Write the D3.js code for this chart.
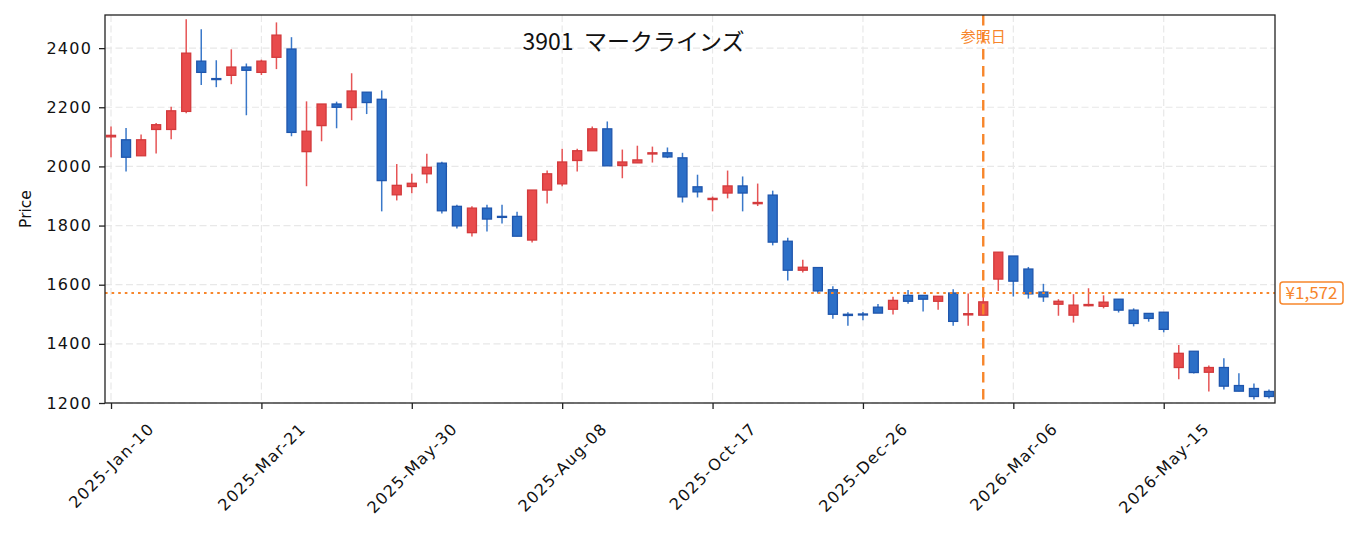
<!DOCTYPE html>
<html>
<head>
<meta charset="utf-8">
<script src="https://cdn.jsdelivr.net/npm/d3@7"></script>
<style>
  html, body { margin: 0; padding: 0; background: #fff; }
  svg { display: block; }
</style>
</head>
<body>
<svg id="chart" width="1355" height="533"></svg>
<script>
const title = "3901\u00a0\u00a0マークラインズ";
const yLabel = "Price";
const refLabel = "参照日";
const refDate = "2026-02-20";
const refPrice = 1572;
const refPriceLabel = "¥1,572";

const dates = [
  "2025-01-10","2025-01-17","2025-01-24","2025-01-31","2025-02-07","2025-02-14","2025-02-21","2025-02-28",
  "2025-03-07","2025-03-14","2025-03-21","2025-03-28","2025-04-04","2025-04-11","2025-04-18","2025-04-25",
  "2025-05-02","2025-05-09","2025-05-16","2025-05-23","2025-05-30","2025-06-06","2025-06-13","2025-06-20",
  "2025-06-27","2025-07-04","2025-07-11","2025-07-18","2025-07-25","2025-08-01","2025-08-08","2025-08-15",
  "2025-08-22","2025-08-29","2025-09-05","2025-09-12","2025-09-19","2025-09-26","2025-10-03","2025-10-10",
  "2025-10-17","2025-10-24","2025-10-31","2025-11-07","2025-11-14","2025-11-21","2025-11-28","2025-12-05",
  "2025-12-12","2025-12-19","2025-12-26","2026-01-02","2026-01-09","2026-01-16","2026-01-23","2026-01-30",
  "2026-02-06","2026-02-13","2026-02-20","2026-02-27","2026-03-06","2026-03-13","2026-03-20","2026-03-27",
  "2026-04-03","2026-04-10","2026-04-17","2026-04-24","2026-05-01","2026-05-08","2026-05-15","2026-05-22",
  "2026-05-29","2026-06-05","2026-06-12","2026-06-19","2026-06-26","2026-07-03"
];

const open = [
  2100,2090,2036,2125,2125,2186,2356,2297,2308,2336,2318,2369,2397,2050,2138,2211,
  2199,2251,2227,1904,1932,1975,2011,1865,1776,1859,1831,1831,1751,1920,1941,2020,
  2053,2127,2003,2012,2042,2046,2029,1931,1888,1910,1934,1874,1903,1747,1649,1658,
  1583,1500,1501,1524,1517,1564,1564,1544,1572,1498,1497,1619,1697,1653,1575,1534,
  1497,1529,1527,1551,1514,1503,1507,1320,1375,1304,1320,1259,1249,1239
];
const high = [
  2135,2130,2108,2147,2202,2498,2464,2359,2396,2348,2361,2487,2437,2220,2211,2219,
  2315,2251,2257,2008,1975,2043,2016,1870,1865,1870,1870,1847,1920,1986,2060,2060,
  2135,2152,2057,2070,2067,2064,2046,1972,1898,1986,1966,1942,1918,1759,1684,1658,
  1595,1507,1508,1535,1559,1582,1564,1561,1585,1570,1590,1710,1697,1660,1603,1551,
  1568,1588,1564,1551,1520,1503,1507,1396,1375,1327,1351,1301,1266,1246
];
const low = [
  2031,1983,2036,2044,2092,2180,2275,2268,2278,2173,2309,2329,2102,1933,2085,2129,
  2156,2177,1848,1885,1909,1943,1841,1790,1763,1780,1807,1764,1743,1875,1933,1983,
  2053,2002,1960,2012,2013,2028,1878,1895,1848,1892,1848,1866,1733,1614,1641,1570,
  1485,1461,1480,1504,1499,1536,1509,1515,1461,1461,1497,1579,1560,1553,1542,1495,
  1472,1527,1520,1506,1459,1475,1439,1280,1300,1239,1246,1240,1212,1215
];
const close = [
  2105,2031,2090,2141,2188,2383,2318,2294,2336,2325,2356,2444,2115,2119,2211,2200,
  2255,2216,1952,1936,1943,1997,1850,1799,1859,1822,1828,1764,1920,1975,2015,2053,
  2127,2002,2015,2022,2046,2032,1897,1914,1892,1934,1910,1878,1744,1649,1659,1579,
  1500,1496,1498,1504,1547,1544,1551,1561,1476,1502,1542,1710,1612,1569,1559,1544,
  1531,1533,1541,1514,1469,1486,1449,1368,1303,1320,1257,1240,1222,1222
];

const xTickDates = ["2025-01-10","2025-03-21","2025-05-30","2025-08-08","2025-10-17","2025-12-26","2026-03-06","2026-05-15"];
const yTicks = [1200,1400,1600,1800,2000,2200,2400];
const yDomain = [1200, 2512];

const parse = d3.utcParse("%Y-%m-%d");
const fmt = d3.utcFormat("%Y-%b-%d");
const WEEK = 7 * 864e5;
const data = dates.map((d, i) => ({ date: parse(d), o: open[i], h: high[i], l: low[i], c: close[i] }));

const L = 105, R = 1275, T = 15, B = 403;
const svg = d3.select("#chart");

const x = d3.scaleUtc()
  .domain([new Date(+data[0].date - 0.4 * WEEK), new Date(+data[data.length - 1].date + 0.4 * WEEK)])
  .range([L, R]);
const y = d3.scaleLinear().domain(yDomain).range([B, T]);

const orange = "#f7862b";
const upFill = "#e84b4c", upStroke = "#d33a3c", upWick = "#e65556";
const dnFill = "#2c6fc7", dnStroke = "#1f56ad", dnWick = "#3a78c9";
const tickFont = "DejaVu Sans";

// grid
const grid = svg.append("g");
grid.selectAll("line.gx").data(xTickDates.map(parse)).join("line")
  .attr("x1", d => x(d)).attr("x2", d => x(d)).attr("y1", T).attr("y2", B)
  .attr("stroke", "#e8e8e8").attr("stroke-width", 1.2).attr("stroke-dasharray", "7,3.5");
grid.selectAll("line.gy").data(yTicks).join("line")
  .attr("x1", L).attr("x2", R).attr("y1", d => y(d)).attr("y2", d => y(d))
  .attr("stroke", "#e8e8e8").attr("stroke-width", 1.2).attr("stroke-dasharray", "7,3.5");

// candles
const halfW = (x(new Date(+data[0].date + 0.3 * WEEK)) - x(data[0].date));
const cg = svg.append("g");
cg.selectAll("line.wick").data(data).join("line")
  .attr("x1", d => x(d.date)).attr("x2", d => x(d.date))
  .attr("y1", d => y(d.h)).attr("y2", d => y(d.l))
  .attr("stroke", d => d.c >= d.o ? upWick : dnWick).attr("stroke-width", 1.5);
cg.selectAll("rect.body").data(data).join("rect")
  .attr("x", d => x(d.date) - halfW).attr("width", halfW * 2)
  .attr("y", d => y(Math.max(d.o, d.c)))
  .attr("height", d => Math.max(1, Math.abs(y(d.o) - y(d.c))))
  .attr("fill", d => d.c >= d.o ? upFill : dnFill)
  .attr("stroke", d => d.c >= d.o ? upStroke : dnStroke)
  .attr("stroke-width", 1.3);

// reference lines
svg.append("line")
  .attr("x1", L).attr("x2", R).attr("y1", y(refPrice)).attr("y2", y(refPrice))
  .attr("stroke", orange).attr("stroke-width", 2).attr("stroke-dasharray", "2.6,4");
svg.append("line")
  .attr("x1", x(parse(refDate))).attr("x2", x(parse(refDate))).attr("y1", T).attr("y2", B)
  .attr("stroke", orange).attr("stroke-width", 2.4).attr("stroke-dasharray", "10.5,6.5");
svg.append("text")
  .attr("x", x(parse(refDate))).attr("y", 41.5)
  .attr("text-anchor", "middle").attr("font-family", "Noto Sans CJK JP").attr("font-size", 15)
  .attr("fill", orange).text(refLabel);

// spines
svg.append("rect").attr("x", L).attr("y", T).attr("width", R - L).attr("height", B - T)
  .attr("fill", "none").attr("stroke", "#222").attr("stroke-width", 1.3);

// y axis
const yAxis = svg.append("g").attr("transform", `translate(${L},0)`)
  .call(d3.axisLeft(y).tickValues(yTicks).tickSize(6).tickPadding(8).tickFormat(d3.format("d")));
yAxis.select(".domain").remove();
yAxis.selectAll(".tick line").attr("stroke", "#222").attr("stroke-width", 1.3);
yAxis.selectAll(".tick text").attr("font-family", tickFont).attr("font-size", 16)
  .attr("letter-spacing", "1.3px").attr("fill", "#111").attr("dx", "1.3px");

// x axis
const xAxis = svg.append("g").attr("transform", `translate(0,${B})`)
  .call(d3.axisBottom(x).tickValues(xTickDates.map(parse)).tickSize(6).tickFormat(fmt));
xAxis.select(".domain").remove();
xAxis.selectAll(".tick line").attr("stroke", "#222").attr("stroke-width", 1.3);
xAxis.selectAll(".tick text")
  .attr("font-family", tickFont).attr("font-size", 16).attr("letter-spacing", "1.3px")
  .attr("fill", "#111").attr("text-anchor", "middle").attr("dy", "0.35em").attr("y", 0)
  .each(function () {
    const len = this.getComputedTextLength();
    const cy = 421 - B + 0.7071 * (len + 13) / 2;
    d3.select(this).attr("transform", `translate(0,${cy}) rotate(-45)`);
  });

// y label
svg.append("text")
  .attr("transform", `translate(31,${(T + B) / 2}) rotate(-90)`)
  .attr("text-anchor", "middle").attr("font-family", tickFont).attr("font-size", 15.5)
  .attr("fill", "#111").text(yLabel);

// title
svg.append("text")
  .attr("x", 633.5).attr("y", 49.5).attr("text-anchor", "middle")
  .attr("font-family", "Noto Sans CJK JP").attr("font-size", 23).attr("fill", "#111")
  .text(title);

// price badge
const by = y(refPrice);
const badge = svg.append("g");
badge.append("rect").attr("x", 1280).attr("y", by - 11).attr("width", 63).attr("height", 22)
  .attr("rx", 3).attr("fill", "#fff").attr("stroke", orange).attr("stroke-width", 1.5);
badge.append("text").attr("x", 1311.5).attr("y", by).attr("dy", "0.36em")
  .attr("text-anchor", "middle").attr("font-family", "Noto Sans CJK JP").attr("font-size", 17)
  .attr("fill", orange).text(refPriceLabel);
</script>
</body>
</html>
